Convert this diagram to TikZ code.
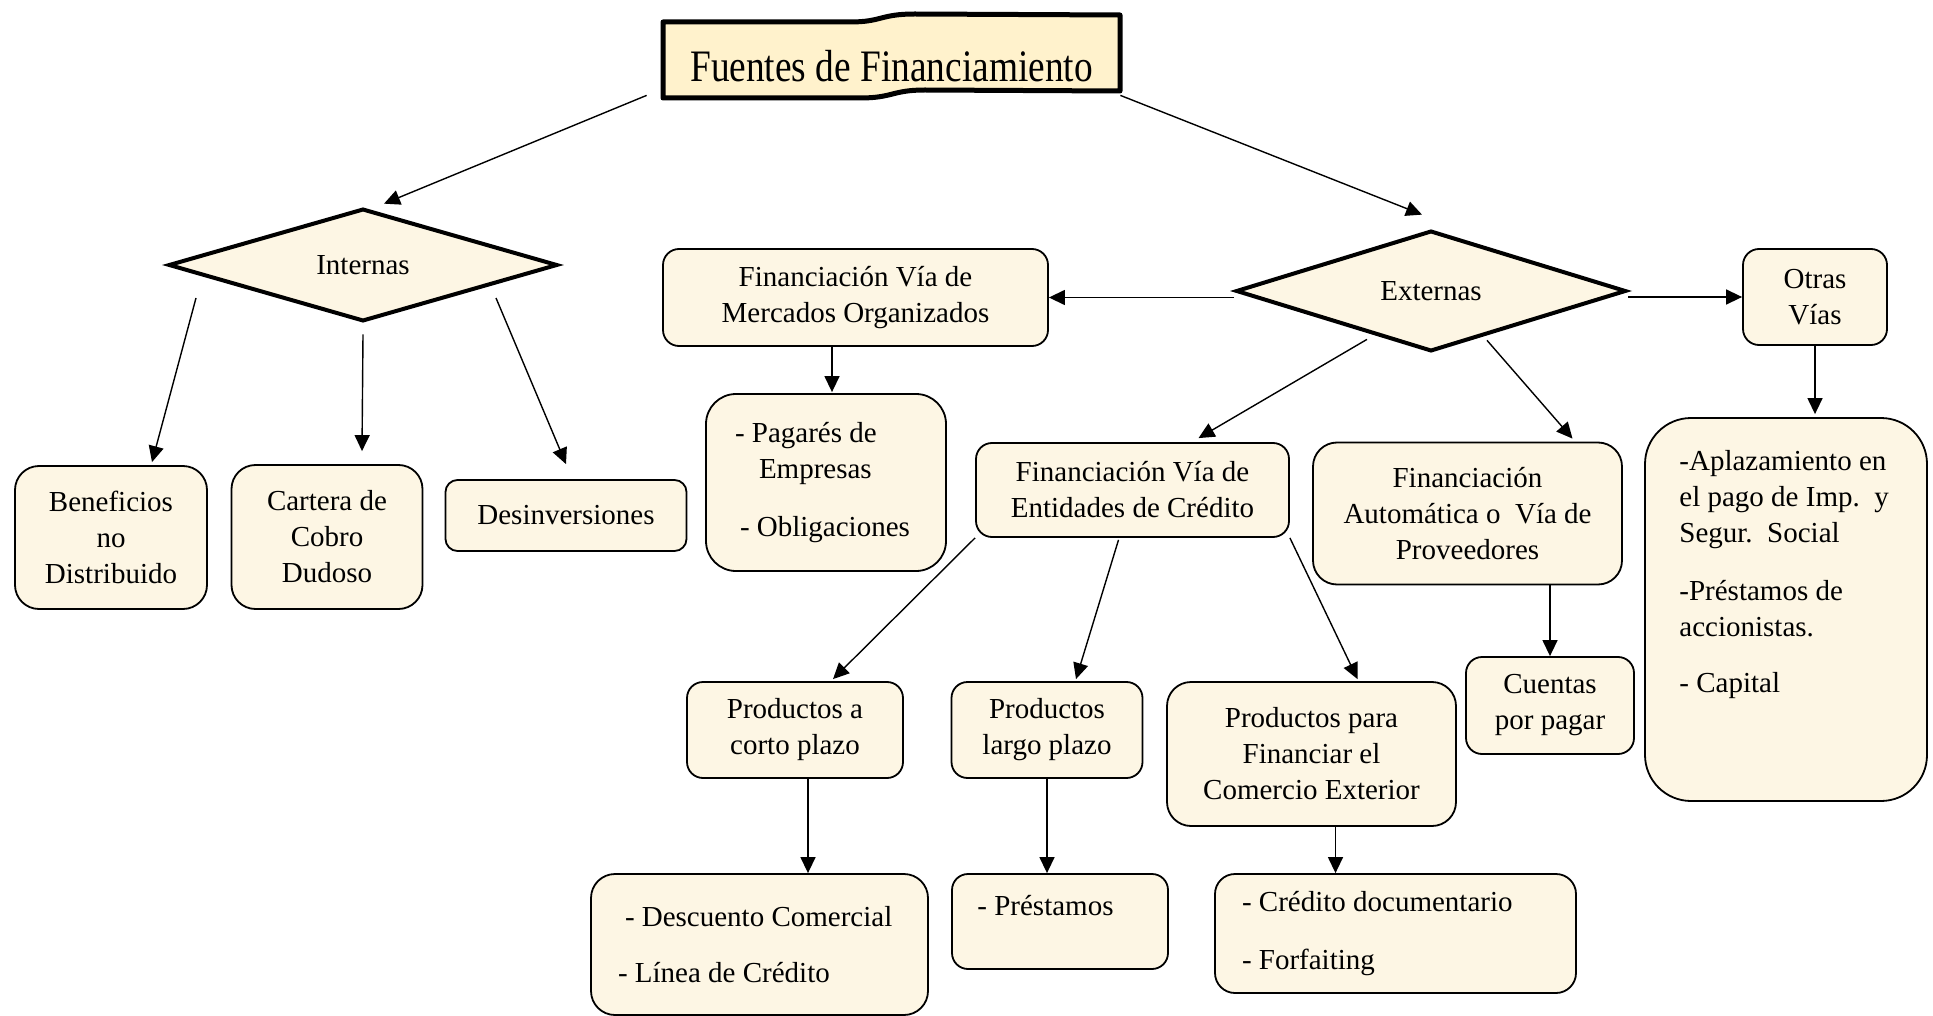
\documentclass[tikz,border=0pt]{standalone}
\usepackage{fontspec}
\setmainfont{Liberation Serif}
\newfontfamily\titlefont[FakeStretch=0.83]{Liberation Serif}
\usetikzlibrary{shapes.geometric,arrows.meta,calc}

\definecolor{boxfill}{RGB}{253,246,228}
\definecolor{titlefill}{RGB}{255,242,204}

\tikzstyle{box} = [draw, line width=0.9pt, fill=boxfill, rounded corners=8pt, inner sep=0pt, align=center, font=\fontsize{14.5pt}{18pt}\selectfont]
\tikzstyle{txt} = [inner sep=0pt, align=flush left, font=\fontsize{14.5pt}{18pt}\selectfont]
\tikzstyle{choice} = [diamond, draw, line width=2pt, fill=boxfill, inner sep=0pt, font=\fontsize{14.5pt}{18pt}\selectfont]
\tikzstyle{arw} = [-{Triangle[length=8pt,width=7.5pt]}, line width=0.7pt]
\tikzstyle{banner} = [line width=2.5pt, fill=titlefill, line join=round]

\begin{document}
\begin{tikzpicture}[x=0.5pt,y=-0.5pt]

\path[use as bounding box, fill=white] (0,0) rectangle (1933,1016);

% titulo
\draw[banner] (663,22) -- (850,22) .. controls (882,22) and (880,14) .. (915,14) -- (1120,15) -- (1120,91) -- (925,90) .. controls (892,90) and (893,98) .. (860,98) -- (663,98) -- cycle;
\node[inner sep=0pt, minimum width=228.5pt, minimum height=42pt, text height=26pt, text depth=0pt, font=\titlefont\fontsize{22.5pt}{27pt}\selectfont] (fuentes) at (891.5,56) {Fuentes de Financiamiento};

% internas
\node[choice, minimum width=194.5pt, minimum height=56pt] (internas) at (363,265) {Internas};
\node[box, minimum width=96pt, minimum height=71.5pt, rounded corners=12pt] (benef) at (111,537.5) {Beneficios\\no\\Distribuido};
\node[box, minimum width=95.5pt, minimum height=72pt, rounded corners=12pt] (cartera) at (327,537) {Cartera de\\Cobro\\Dudoso};
\node[box, minimum width=120.5pt, minimum height=35.5pt, rounded corners=6pt] (desinv) at (566,515.5) {Desinversiones};

% externas
\node[choice, minimum width=195pt, minimum height=54pt] (externas) at (1431,291) {Externas};
\node[box, minimum width=192.5pt, minimum height=48.5pt] (mercados) at (855.5,297.5) {Financiación Vía de\\Mercados Organizados};
\node[box, minimum width=120pt, minimum height=88.5pt, rounded corners=15pt, align=flush left, text width=91pt, inner xsep=14.5pt] (pagares) at (826,482.5) {- Pagarés de\\\hspace*{12pt}Empresas\\[11pt]\hspace*{2.5pt}- Obligaciones};
\node[box, minimum width=156.5pt, minimum height=47pt] (entidades) at (1132.5,490) {Financiación Vía de\\Entidades de Crédito};
\node[box, minimum width=154.5pt, minimum height=71pt, rounded corners=12pt] (autom) at (1467.5,513.5) {Financiación\\Automática o\ \ Vía de\\Proveedores};
\node[box, minimum width=72pt, minimum height=48pt] (otras) at (1815,297) {Otras\\Vías};
\node[box, minimum width=141pt, minimum height=191.5pt, rounded corners=23pt] (aplaz) at (1786,609.5) {};
\node[txt, anchor=north west] (aplaztxt) at (1679,450) {-Aplazamiento en\\el pago de Imp.\ \ y\\Segur.\ \ Social\\[11pt]-Préstamos de\\accionistas.\\[10pt]- Capital};
\node[box, minimum width=84pt, minimum height=48.5pt] (cuentas) at (1550,705.5) {Cuentas\\por pagar};

% productos
\node[box, minimum width=108pt, minimum height=48pt] (corto) at (795,730) {Productos a\\corto plazo};
\node[box, minimum width=95.5pt, minimum height=48pt] (largo) at (1047,730) {Productos\\largo plazo};
\node[box, minimum width=144.5pt, minimum height=72pt, rounded corners=12pt] (para) at (1311.5,754) {Productos para\\Financiar el\\Comercio Exterior};
\node[box, minimum width=168.5pt, minimum height=70.5pt, rounded corners=12pt, align=flush left, text width=141.5pt, inner xsep=13.5pt] (descuento) at (759.5,944.5) {\hspace*{3.5pt}- Descuento Comercial\\[10pt]- Línea de Crédito};
\node[box, minimum width=108pt, minimum height=47.5pt] (prestamos) at (1060,921.5) {};
\node[txt, anchor=base west] (prestxt) at (977,915) {- Préstamos};
\node[box, minimum width=180.5pt, minimum height=59.5pt, rounded corners=10pt, align=flush left, text width=153.5pt, inner xsep=13.5pt] (credito) at (1395.5,933.5) {- Crédito documentario\\[11pt]- Forfaiting};

% flechas
\draw[arw] ($(fuentes.south west)+(-16,-3)$) -- ($(internas.north)+(21,-3)$);
\draw[arw] ($(fuentes.south east)+(0,-3)$) -- ($(externas.north)+(-9,-14)$);
\draw[arw] ($(internas)+(-167,33)$) -- ($(benef.north)+(41,-3)$);
\draw[arw] ($(internas.south)+(0,11)$) -- ($(cartera.north)+(35,-13)$);
\draw[arw] ($(internas)+(133,33)$) -- ($(desinv.north)+(0,-15)$);
\draw[arw] (externas.west |- mercados.east) -- (mercados.east);
\draw[arw] (externas.east |- otras.west) -- (otras.west);
\draw[arw] ($(externas.south)+(-64,-14)$) -- ($(entidades.north)+(66,-4)$);
\draw[arw] ($(externas.south)+(56,-13)$) -- ($(autom.north)+(105,-3)$);
\draw[arw] ($(pagares.north |- mercados.south)+(6,0)$) -- ($(pagares.north)+(6,-1)$);
\draw[arw] (entidades.south west) -- ($(corto.north)+(38,-2)$);
\draw[arw] ($(entidades.south)+(-14,2)$) -- ($(largo.north)+(29,-2)$);
\draw[arw] (entidades.south east) -- ($(para.north)+(46,-2)$);
\draw[arw] (cuentas.north |- autom.south) -- (cuentas.north);
\draw[arw] (otras.south) -- ($(otras.south |- aplaz.north)+(0,-3)$);
\draw[arw] ($(corto.south)+(13,0)$) -- ($(corto.south |- descuento.north)+(13,0)$);
\draw[arw] (largo.south) -- (largo.south |- prestamos.north);
\draw[arw] ($(para.south)+(24,0)$) -- ($(para.south |- credito.north)+(24,0)$);

\end{tikzpicture}
\end{document}
